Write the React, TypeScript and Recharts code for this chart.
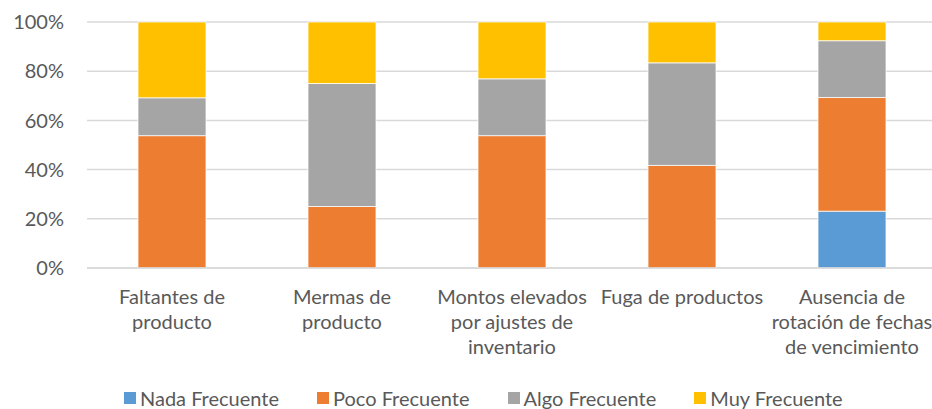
import type { FC } from "react";
import { Bar, BarChart, CartesianGrid, Legend, XAxis, YAxis } from "recharts";

const categories = [
	"Faltantes de\nproducto",
	"Mermas de\nproducto",
	"Montos elevados\npor ajustes de\ninventario",
	"Fuga de productos",
	"Ausencia de\nrotación de fechas\nde vencimiento",
];

const nadaFrecuente = [0, 0, 0, 0, 23.1];
const pocoFrecuente = [53.8, 25, 53.8, 41.7, 46.2];
const algoFrecuente = [15.4, 50, 23.1, 41.7, 23.1];
const muyFrecuente = [30.8, 25, 23.1, 16.6, 7.6];

const yTicks = [0, 0.2, 0.4, 0.6, 0.8, 1];

const series = [
	{ key: "nada", name: "Nada Frecuente", color: "#5b9bd5" },
	{ key: "poco", name: "Poco Frecuente", color: "#ed7d31" },
	{ key: "algo", name: "Algo Frecuente", color: "#a5a5a5" },
	{ key: "muy", name: "Muy Frecuente", color: "#ffc000" },
];

const data = categories.map((name, i) => ({
	name,
	nada: nadaFrecuente[i],
	poco: pocoFrecuente[i],
	algo: algoFrecuente[i],
	muy: muyFrecuente[i],
}));

const FONT = "Lato, 'Open Sans', sans-serif";
const TEXT = "#595959";

// multi-line category label, lines split on "\n"
const CategoryTick: FC<any> = ({ x, y, payload }) => {
	const lines = String(payload.value).split("\n");
	return (
		<text x={x} y={y} textAnchor="middle" fill={TEXT} fontSize={20} fontFamily={FONT}>
			{lines.map((line, i) => (
				<tspan key={i} x={x} dy={i === 0 ? 34 : 25}>
					{line}
				</tspan>
			))}
		</text>
	);
};

const LegendBox: FC = () => (
	<div
		style={{
			display: "flex",
			alignItems: "center",
			paddingLeft: 124,
			fontFamily: FONT,
			fontSize: 20,
			color: TEXT,
			height: 22,
		}}
	>
		{series.map((s) => (
			<div key={s.key} style={{ display: "flex", alignItems: "center", marginRight: 38 }}>
				<span style={{ width: 12, height: 12, background: s.color, marginRight: 4 }} />
				<span>{s.name}</span>
			</div>
		))}
	</div>
);

const App: FC = () => {
	return (
		<div style={{ position: "absolute", left: 0, top: 0, width: 932, height: 409, overflow: "hidden", background: "#fff" }}>
			<BarChart
				width={940}
				height={409}
				data={data}
				stackOffset="expand"
				barCategoryGap="30%"
				margin={{ top: 22, right: 3, bottom: 0, left: 0 }}
			>
				<CartesianGrid vertical={false} stroke="#d9d9d9" strokeWidth={1.5} />
				<XAxis
					dataKey="name"
					height={119}
					interval={0}
					axisLine={{ stroke: "#d9d9d9", strokeWidth: 1.5 }}
					tickLine={false}
					tickSize={0}
					tick={<CategoryTick />}
				/>
				<YAxis
					width={87}
					domain={[0, 1]}
					ticks={yTicks}
					tickFormatter={(v: number) => `${Math.round(v * 100)}%`}
					axisLine={false}
					tickLine={false}
					tickSize={0}
					tickMargin={23}
					tick={{ fill: TEXT, fontSize: 20, fontFamily: FONT }}
				/>
				<Legend verticalAlign="bottom" align="left" height={22} content={<LegendBox />} />
				{series.map((s) => (
					<Bar
						key={s.key}
						dataKey={s.key}
						name={s.name}
						stackId="a"
						fill={s.color}
						stroke="#ffffff"
						strokeWidth={0.75}
						isAnimationActive={false}
					/>
				))}
			</BarChart>
		</div>
	);
};

export default App;
